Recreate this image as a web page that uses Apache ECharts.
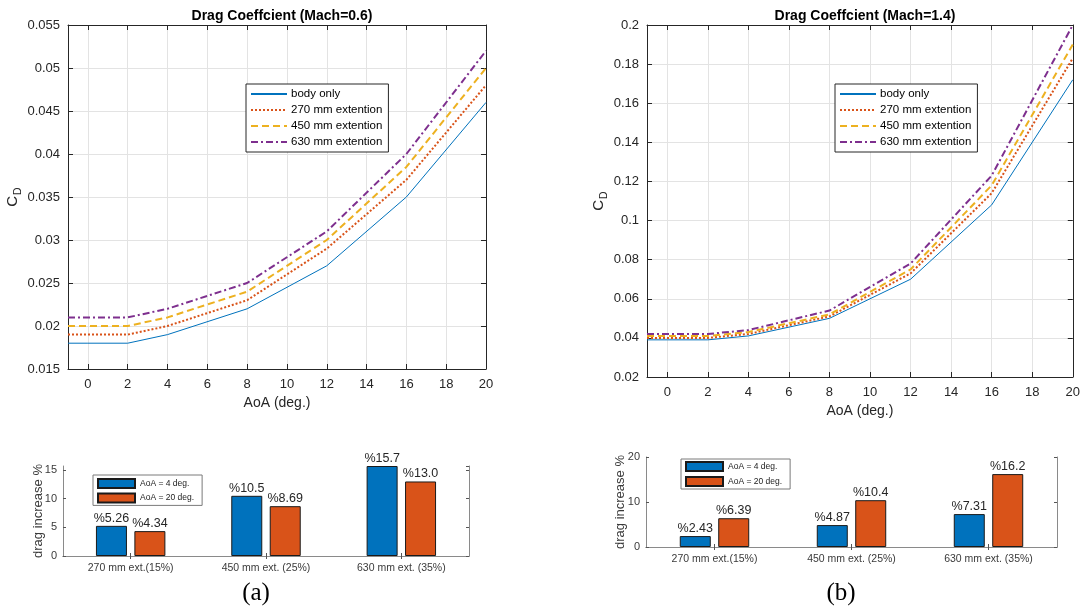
<!DOCTYPE html>
<html><head><meta charset="utf-8">
<script src="https://cdn.jsdelivr.net/npm/echarts@6/dist/echarts.min.js"></script>
<style>html,body{margin:0;padding:0;background:#fff}#c{width:1083px;height:607px}</style>
</head><body><div id="c"></div>
<script>
// ---------- data ----------
const aoa = [-1, 0, 2, 4, 8, 12, 16, 20];
const lineNames = ['body only', '270 mm extention', '450 mm extention', '630 mm extention'];
const m06Body   = [0.018, 0.018, 0.018, 0.019, 0.022, 0.027, 0.035, 0.046];
const m06Ext270 = [0.019, 0.019, 0.019, 0.020, 0.023, 0.029, 0.037, 0.048];
const m06Ext450 = [0.020, 0.020, 0.020, 0.021, 0.024, 0.030, 0.0385, 0.050];
const m06Ext630 = [0.021, 0.021, 0.021, 0.022, 0.025, 0.031, 0.040, 0.052];
const m14Body   = [0.039, 0.039, 0.039, 0.041, 0.050, 0.070, 0.108, 0.172];
const m14Ext270 = [0.040, 0.040, 0.040, 0.042, 0.051, 0.073, 0.114, 0.183];
const m14Ext450 = [0.041, 0.041, 0.041, 0.043, 0.052, 0.075, 0.118, 0.190];
const m14Ext630 = [0.042, 0.042, 0.042, 0.044, 0.054, 0.078, 0.123, 0.200];
const barCats = ['270 mm ext.(15%)', '450 mm ext. (25%)', '630 mm ext. (35%)'];
const barNames = ['AoA = 4 deg.', 'AoA = 20 deg.'];
const m06Aoa4  = [5.26, 10.5, 15.7];
const m06Aoa20 = [4.34, 8.69, 13.0];
const m14Aoa4  = [2.43, 4.87, 7.31];
const m14Aoa20 = [6.39, 10.4, 16.2];
const titles = ['Drag Coeffcient (Mach=0.6)', 'Drag Coeffcient (Mach=1.4)'];

// ---------- styling ----------
const FONT = 'Liberation Sans, Arial, Helvetica, sans-serif';
const DARK = '#262626';
const GRIDC = '#e3e3e3';
const lineColors = ['#0072BD', '#D95319', '#EDB120', '#7E2F8E'];
const lineWidths = [1, 2, 2, 2];
const lineTypes = ['solid', [2, 2], [7, 4], [7, 3, 2, 3]];
const barColors = ['#0072BD', '#D95319'];

const chart = echarts.init(document.getElementById('c'));

const grids = [
  {left: 68, top: 25, width: 418, height: 344},
  {left: 647, top: 25, width: 426, height: 352},
  {left: 63, top: 466, width: 406, height: 90},
  {left: 646, top: 457, width: 411, height: 90}
];

function lineX(gi, main, nameGap) {
  return {
    type: 'value', gridIndex: gi, min: -1, max: 20, minInterval: 2, maxInterval: 2, splitNumber: 10,
    position: main ? 'bottom' : 'top',
    name: main ? 'AoA (deg.)' : '', nameLocation: 'middle', nameGap: nameGap,
    nameTextStyle: {fontFamily: FONT, fontSize: 14, color: DARK},
    axisLine: {show: true, onZero: false, lineStyle: {color: DARK, width: 1}},
    axisTick: {show: true, inside: true, length: 5, lineStyle: {color: DARK}},
    axisLabel: {show: main, fontFamily: FONT, fontSize: 13, color: DARK, margin: 9, showMinLabel: false,
      formatter: v => (v < 0 ? '' : String(v))},
    splitLine: {show: main, lineStyle: {color: GRIDC, width: 1}}
  };
}
function lineY(gi, main, min, max, interval, nameGap) {
  return {
    type: 'value', gridIndex: gi, min: min, max: max, interval: interval,
    position: main ? 'left' : 'right',
    name: main ? '{c|C}{d|D}' : '', nameLocation: 'middle', nameGap: nameGap, nameRotate: 90,
    nameTextStyle: {fontFamily: FONT, color: DARK,
      rich: {c: {fontFamily: FONT, fontSize: 15, color: DARK, lineHeight: 22, verticalAlign: 'middle'},
             d: {fontFamily: FONT, fontSize: 10.5, color: DARK, lineHeight: 22, verticalAlign: 'bottom', padding: [0, 0, 0, 1]}}},
    axisLine: {show: true, onZero: false, lineStyle: {color: DARK, width: 1}},
    axisTick: {show: true, inside: true, length: 5, lineStyle: {color: DARK}},
    axisLabel: {show: main, fontFamily: FONT, fontSize: 13, color: DARK, margin: 8},
    splitLine: {show: main, lineStyle: {color: GRIDC, width: 1}}
  };
}
function barX(gi, main) {
  return {
    type: 'category', gridIndex: gi, data: barCats, position: main ? 'bottom' : 'top',
    axisLine: {show: true, lineStyle: {color: '#8a8a8a', width: 1}},
    axisTick: {show: true, inside: true, length: 3, alignWithLabel: true, lineStyle: {color: '#555'}},
    axisLabel: {show: main, fontFamily: FONT, fontSize: 10.5, color: '#3a3a3a', margin: 7},
    splitLine: {show: false}
  };
}
function barY(gi, main, max, interval, nameGap) {
  return {
    type: 'value', gridIndex: gi, min: 0, max: max, interval: interval, position: main ? 'left' : 'right',
    name: main ? 'drag increase %' : '', nameLocation: 'middle', nameGap: nameGap, nameRotate: 90,
    nameMoveOverlap: false,
    nameTextStyle: {fontFamily: FONT, fontSize: 13, color: '#3a3a3a'},
    axisLine: {show: true, lineStyle: {color: '#8a8a8a', width: 1}},
    axisTick: {show: true, inside: true, length: 3, lineStyle: {color: '#555'}},
    axisLabel: {show: main, fontFamily: FONT, fontSize: 11, color: '#3a3a3a', margin: 6, showMaxLabel: interval === 10},
    splitLine: {show: false}
  };
}

const xAxis = [lineX(0, true, 25), lineX(0, false, 0), lineX(1, true, 26), lineX(1, false, 0),
               barX(2, true), barX(2, false), barX(3, true), barX(3, false)];
const yAxis = [lineY(0, true, 0.015, 0.055, 0.005, 42), lineY(0, false, 0.015, 0.055, 0.005, 0),
               lineY(1, true, 0.02, 0.2, 0.02, 37), lineY(1, false, 0.02, 0.2, 0.02, 0),
               barY(2, true, 15.7, 5, 18), barY(2, false, 15.7, 5, 0),
               barY(3, true, 20, 10, 19), barY(3, false, 20, 10, 0)];

const series = [];
const lineSets = [[m06Body, m06Ext270, m06Ext450, m06Ext630], [m14Body, m14Ext270, m14Ext450, m14Ext630]];
lineSets.forEach((set, gi) => {
  set.forEach((vals, k) => {
    series.push({
      type: 'line', name: lineNames[k], xAxisIndex: gi * 2, yAxisIndex: gi * 2,
      data: aoa.map((a, i) => [a, vals[i]]), symbol: 'none', showSymbol: false, animation: false,
      lineStyle: {color: lineColors[k], width: lineWidths[k], type: lineTypes[k]},
      itemStyle: {color: lineColors[k]}, z: 3 + k
    });
  });
});
const barSets = [[m06Aoa4, m06Aoa20], [m14Aoa4, m14Aoa20]];
barSets.forEach((set, bi) => {
  set.forEach((vals, k) => {
    series.push({
      type: 'bar', name: barNames[k], xAxisIndex: 4 + bi * 2, yAxisIndex: 4 + bi * 2,
      data: vals, barWidth: 31, barGap: '24%', animation: false,
      itemStyle: {color: barColors[k], borderColor: '#1a1a1a', borderWidth: 1},
      label: {show: true, position: 'top', distance: 1, fontFamily: FONT, fontSize: 12.5, color: DARK,
        formatter: p => '%' + Number(p.value).toPrecision(3)}
    });
  });
});

function lineLegend(left, top, gap) {
  return {
    data: lineNames, orient: 'vertical', left: left, top: top, itemWidth: 36, itemHeight: 12, itemGap: gap,
    itemStyle: {opacity: 0, color: 'rgba(0,0,0,0)', borderWidth: 0},
    padding: [4, 6, 4, 4], backgroundColor: '#fff', borderColor: DARK, borderWidth: 1, borderRadius: 0,
    textStyle: {fontFamily: FONT, fontSize: 11.5, color: '#000', padding: [0, 0, 0, -1]},
    selectedMode: false
  };
}
function barLegend(left, top, gap, pad) {
  return {
    data: barNames, orient: 'vertical', left: left, top: top, itemWidth: 37, itemHeight: 9, itemGap: gap,
    padding: pad, backgroundColor: '#fff', borderColor: '#7a7a7a', borderWidth: 1, borderRadius: 0,
    icon: 'rect', textStyle: {fontFamily: FONT, fontSize: 8.5, color: '#222', lineHeight: 10},
    selectedMode: false
  };
}

chart.setOption({
  backgroundColor: '#fff',
  animation: false,
  title: [
    {text: titles[0], left: 277, top: 4, textAlign: 'center', textStyle: {fontFamily: FONT, fontSize: 14, fontWeight: 'bold', color: '#000'}},
    {text: titles[1], left: 860, top: 4, textAlign: 'center', textStyle: {fontFamily: FONT, fontSize: 14, fontWeight: 'bold', color: '#000'}},
    {text: '(a)', left: 251, top: 576, textAlign: 'center', textStyle: {fontFamily: 'Liberation Serif, serif', fontSize: 25, fontWeight: 'normal', color: '#000'}},
    {text: '(b)', left: 836, top: 576, textAlign: 'center', textStyle: {fontFamily: 'Liberation Serif, serif', fontSize: 25, fontWeight: 'normal', color: '#000'}}
  ],
  legend: [lineLegend(246, 84, 4), lineLegend(835, 84, 4),
           barLegend(93, 475, 3.4, [3, 8, 2, 4]), barLegend(681, 459, 4, [2, 8, 2, 4])],
  grid: grids,
  xAxis: xAxis,
  yAxis: yAxis,
  series: series
});
</script>
</body></html>
